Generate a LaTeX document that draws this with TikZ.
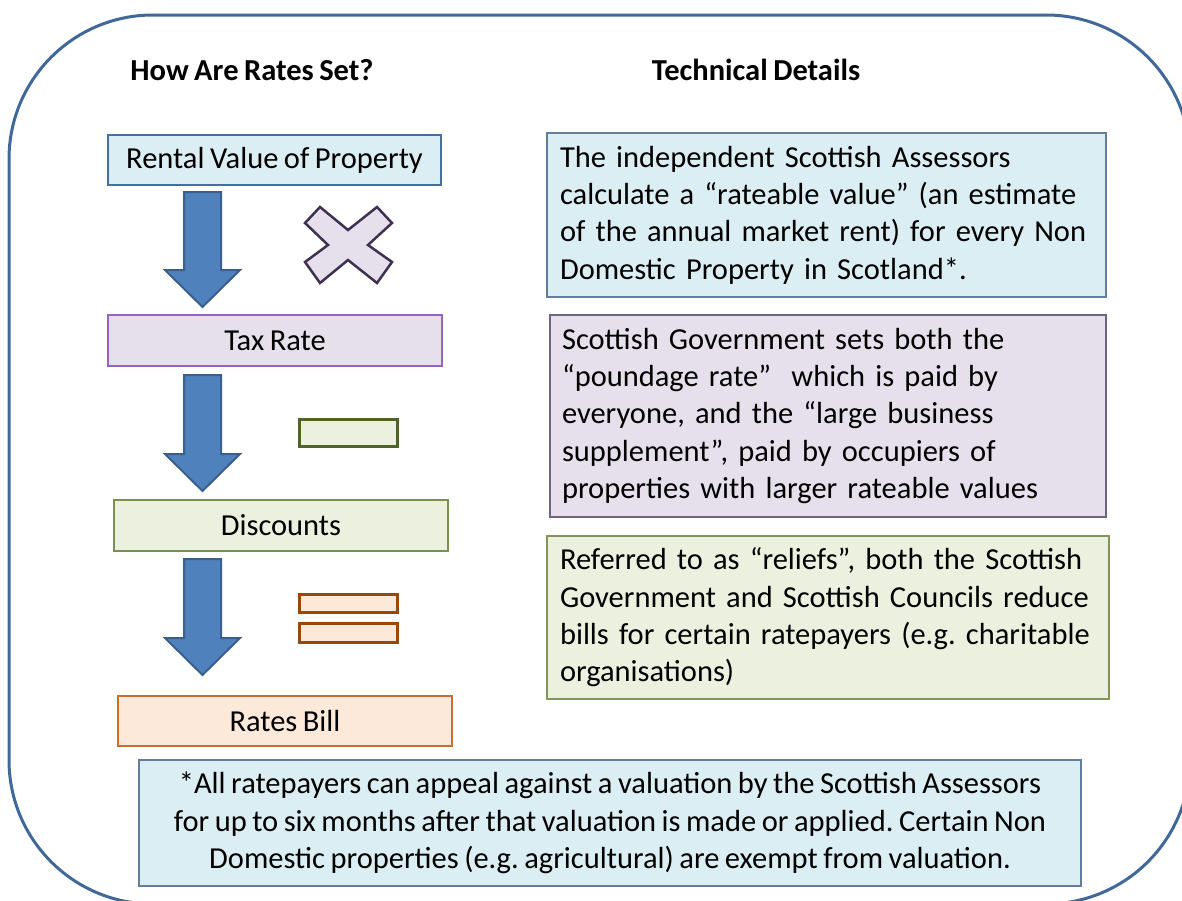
\documentclass[tikz,border=0pt]{standalone}
\usepackage{fontspec}
\setmainfont{Carlito}[WordSpace=0.8]
\frenchspacing
\definecolor{outerc}{RGB}{64,104,152}
\definecolor{bluefill}{RGB}{219,238,244}
\definecolor{blueline}{RGB}{70,110,160}
\definecolor{purplefill}{RGB}{230,224,236}
\definecolor{purpleline}{RGB}{150,100,190}
\definecolor{greenfill}{RGB}{235,241,222}
\definecolor{greenline}{RGB}{120,145,80}
\definecolor{orangefill}{RGB}{253,233,217}
\definecolor{orangeline}{RGB}{200,110,50}
\definecolor{arrowfill}{RGB}{79,129,189}
\definecolor{arrowline}{RGB}{59,95,140}
\definecolor{crossline}{RGB}{63,49,81}
\definecolor{minusline}{RGB}{79,98,40}
\definecolor{equalline}{RGB}{152,72,7}
\definecolor{boxAline}{RGB}{100,125,155}
\definecolor{boxBline}{RGB}{110,100,130}
\definecolor{boxCline}{RGB}{130,150,90}
\tikzset{
  txt/.style={font=\fontsize{30.5}{37.3}\selectfont\frenchspacing},
  head/.style={font=\fontsize{30.5}{37.3}\selectfont\bfseries},
  leftbox/.style={txt, draw, line width=1.5pt, inner sep=0pt, anchor=center},
  rightbox/.style={txt, draw, line width=1.5pt, inner ysep=0pt, inner xsep=13pt, align=left, anchor=center},
  blockarrow/.style={fill=arrowfill, draw=arrowline, line width=2pt, line join=miter},
}
\begin{document}
\begin{tikzpicture}[x=1pt,y=-1pt]
\useasboundingbox (0,0) rectangle (1182,900);
\clip (0,0) rectangle (1182,900);
% outer frame
\draw[outerc, line width=3pt, rounded corners=144pt] (9,15) rectangle (1190,904);
% headings
\node[head] (h1) at (252,70) {How Are Rates Set?};
\node[head] (h2) at (756,70) {Technical Details};
% left column boxes
\node[leftbox, fill=bluefill, draw=blueline, minimum width=333pt, minimum height=50pt] (rv) at (274.5,160) {Rental Value of Property};
\node[leftbox, fill=purplefill, draw=purpleline, minimum width=334pt, minimum height=51pt] (tr) at (275,340.5) {Tax Rate};
\node[leftbox, fill=greenfill, draw=greenline, minimum width=334pt, minimum height=51pt] (dc) at (281,525.5) {Discounts};
\node[leftbox, fill=orangefill, draw=orangeline, minimum width=334pt, minimum height=50pt] (rb) at (285,721) {Rates Bill};
% block arrows
\draw[blockarrow] (184,192) -- (221,192) -- (221,270) -- (240,270) -- (202.5,307) -- (165,270) -- (184,270) -- cycle;
\draw[blockarrow] (184,375) -- (221,375) -- (221,454) -- (240,454) -- (202.5,491) -- (165,454) -- (184,454) -- cycle;
\draw[blockarrow] (184,559) -- (221,559) -- (221,638) -- (240,638) -- (202.5,675) -- (165,638) -- (184,638) -- cycle;
% operator symbols
\draw[fill=purplefill, draw=crossline, line width=2.5pt, line join=miter]
  (320,207) -- (348,230) -- (377,207) -- (392,223) -- (368,245) -- (392,262) -- (377,283) -- (348,260) -- (320,283) -- (305,262) -- (328,245) -- (305,223) -- cycle;
\draw[fill=greenfill, draw=minusline, line width=3pt] (299,419) rectangle (397,446);
\draw[fill=orangefill, draw=equalline, line width=3pt] (299,594) rectangle (397,612);
\draw[fill=orangefill, draw=equalline, line width=3pt] (299,623) rectangle (397,642);
% right column boxes
\node[rightbox, fill=bluefill, draw=boxAline, text width=533pt, minimum height=164pt] (ta) at (826.5,215) {The independent Scottish Assessors\\calculate a “rateable value” (an estimate\\of the annual market rent) for every Non\\Domestic Property in Scotland*.};
\node[rightbox, fill=purplefill, draw=boxBline, text width=532pt, inner xsep=12pt, minimum height=202pt] (tb) at (828,416) {Scottish Government sets both the\\“poundage rate”~ which is paid by\\everyone, and the “large business\\supplement”, paid by occupiers of\\properties with larger rateable values};
\node[rightbox, fill=greenfill, draw=boxCline, text width=536pt, minimum height=163pt] (tc) at (828,617.5) {Referred to as “reliefs”, both the Scottish\\Government and Scottish Councils reduce\\bills for certain ratepayers (e.g. charitable\\organisations)};
% footnote box
\node[txt, draw=boxAline, fill=bluefill, line width=1.5pt, align=center, inner sep=0pt, minimum width=942pt, minimum height=126pt] (fn) at (610,823) {*All ratepayers can appeal against a valuation by the Scottish Assessors\\for up to six months after that valuation is made or applied. Certain Non\\Domestic properties (e.g. agricultural) are exempt from valuation.};
\end{tikzpicture}
\end{document}
